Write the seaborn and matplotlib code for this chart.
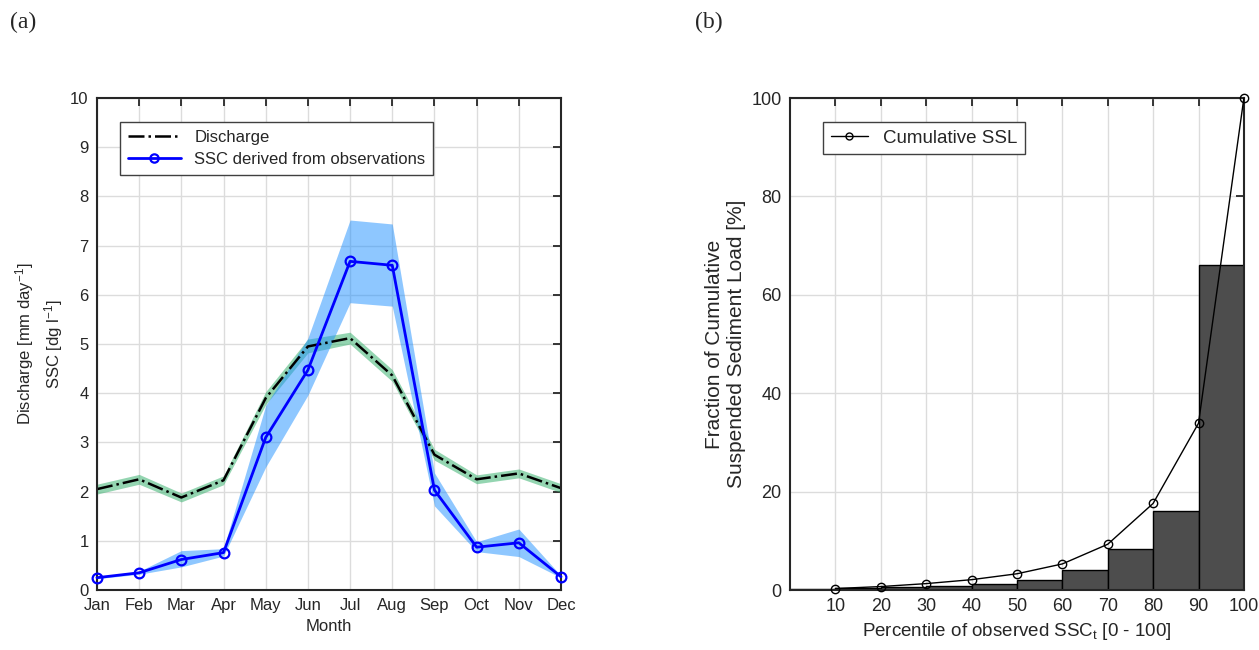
import numpy as np
import pandas as pd
import seaborn as sns
import matplotlib.pyplot as plt
from matplotlib.lines import Line2D

# Datos panel (a): medias mensuales
meses = ['Jan', 'Feb', 'Mar', 'Apr', 'May', 'Jun', 'Jul', 'Aug', 'Sep', 'Oct', 'Nov', 'Dec']
caudal = [2.05, 2.25, 1.88, 2.23, 3.9, 4.95, 5.12, 4.36, 2.75, 2.25, 2.37, 2.07]
caudal_sup = [2.15, 2.35, 1.97, 2.32, 4.03, 5.1, 5.24, 4.48, 2.86, 2.34, 2.46, 2.16]
caudal_inf = [1.95, 2.15, 1.79, 2.14, 3.77, 4.82, 5.0, 4.24, 2.64, 2.16, 2.28, 1.98]
ssc = [0.25, 0.35, 0.62, 0.76, 3.1, 4.47, 6.68, 6.6, 2.03, 0.87, 0.96, 0.27]
ssc_sup = [0.27, 0.38, 0.8, 0.84, 3.75, 5.12, 7.52, 7.44, 2.38, 0.98, 1.24, 0.29]
ssc_inf = [0.23, 0.32, 0.47, 0.69, 2.5, 3.96, 5.84, 5.77, 1.71, 0.78, 0.68, 0.25]

# Datos panel (b): percentiles
percentiles = [10, 20, 30, 40, 50, 60, 70, 80, 90, 100]
centros_barras = [5, 15, 25, 35, 45, 55, 65, 75, 85, 95]
alturas_barras = [0.2, 0.4, 0.6, 0.8, 1.2, 2.0, 4.1, 8.4, 16.1, 66.1]
acumulado = [0.3, 0.7, 1.3, 2.1, 3.3, 5.3, 9.3, 17.6, 33.9, 100.0]

sns.set_style('white')
plt.rcParams['font.family'] = ['Liberation Sans', 'DejaVu Sans']
plt.rcParams['mathtext.fontset'] = 'custom'
plt.rcParams['mathtext.rm'] = 'Liberation Sans'
plt.rcParams['mathtext.it'] = 'Liberation Sans:italic'

fig = plt.figure(figsize=(12.59, 6.5), dpi=100)
ax1 = fig.add_axes([0.077, 0.0923, 0.3686, 0.7569])
ax2 = fig.add_axes([0.6275, 0.0923, 0.3605, 0.7569])

def estilo_matlab(ax, tam):
    for s in ax.spines.values():
        s.set_color('#262626')
        s.set_linewidth(1.5)
    ax.tick_params(direction='in', length=6, width=1.3, top=True, right=True,
                   labelsize=tam, colors='#262626', pad=6)
    ax.grid(True, color='#dcdcdc', linewidth=1)
    ax.set_axisbelow(True)

# Panel (a)
x_mes = np.arange(1, 13)
df_a = pd.DataFrame({'mes': x_mes, 'caudal': caudal, 'ssc': ssc})
ax1.fill_between(x_mes, caudal_inf, caudal_sup, color='#3cb371', alpha=0.55, linewidth=0)
ax1.fill_between(x_mes, ssc_inf, ssc_sup, color='#1e90ff', alpha=0.5, linewidth=0)
sns.lineplot(data=df_a, x='mes', y='caudal', ax=ax1, color='black', linestyle='-.', linewidth=1.8)
sns.lineplot(data=df_a, x='mes', y='ssc', ax=ax1, color='#0000ff', linewidth=2,
             marker='o', markersize=7, markerfacecolor='none', markeredgecolor='#0000ff',
             markeredgewidth=1.6, clip_on=False, zorder=5)
ax1.set_xlim(1, 12)
ax1.set_ylim(0, 10)
ax1.set_xticks(x_mes)
ax1.set_xticklabels(meses)
ax1.set_yticks(range(0, 11))
estilo_matlab(ax1, 12)
ax1.set_xlabel('Month', fontsize=12, color='#262626')
ax1.set_ylabel('Discharge [mm day$^{-1}$]\nSSC [dg l$^{-1}$]', fontsize=12, color='#262626',
               linespacing=1.3)
leyenda_a = [Line2D([], [], color='black', linestyle='-.', linewidth=1.8),
             Line2D([], [], color='#0000ff', linewidth=2, marker='o', markersize=6,
                    markerfacecolor='none', markeredgewidth=1.6)]
lg1 = ax1.legend(leyenda_a, ['Discharge', 'SSC derived from observations'],
                 loc='upper left', bbox_to_anchor=(0.05, 0.951), fontsize=12,
                 fancybox=False, framealpha=1, edgecolor='#404040', borderpad=0.45,
                 handlelength=3.2, labelspacing=0.45, borderaxespad=0)
lg1.get_frame().set_linewidth(1)

# Panel (b)
df_b = pd.DataFrame({'centro': centros_barras, 'altura': alturas_barras})
sns.barplot(data=df_b, x='centro', y='altura', ax=ax2, native_scale=True, width=1,
            color='#4d4d4d', saturation=1, edgecolor='black', linewidth=1)
df_c = pd.DataFrame({'p': percentiles, 'acum': acumulado})
sns.lineplot(data=df_c, x='p', y='acum', ax=ax2, color='black', linewidth=1,
             marker='o', markersize=6, markerfacecolor='none', markeredgecolor='black',
             markeredgewidth=1, clip_on=False, zorder=5)
ax2.set_xlim(0, 100)
ax2.set_ylim(0, 100)
ax2.set_xticks(percentiles)
ax2.set_yticks(range(0, 101, 20))
estilo_matlab(ax2, 13)
ax2.set_xlabel('Percentile of observed SSC$_\\mathrm{t}$ [0 - 100]', fontsize=13.5,
               color='#262626')
ax2.set_ylabel('Fraction of Cumulative\nSuspended Sediment Load [%]', fontsize=15,
               color='#262626', linespacing=1.2)
leyenda_b = [Line2D([], [], color='black', linewidth=1, marker='o', markersize=5,
                    markerfacecolor='none')]
lg2 = ax2.legend(leyenda_b, ['Cumulative SSL'], loc='upper left',
                 bbox_to_anchor=(0.073, 0.951), fontsize=13.5, fancybox=False,
                 framealpha=1, edgecolor='#404040', borderpad=0.4, handlelength=2.0,
                 borderaxespad=0)
lg2.get_frame().set_linewidth(1)

fig.text(10 / 1259, 1 - 22 / 650, '(a)', fontsize=17, family='Liberation Serif', va='center')
fig.text(695 / 1259, 1 - 22 / 650, '(b)', fontsize=17, family='Liberation Serif', va='center')

fig.savefig('out.png', dpi=100)
